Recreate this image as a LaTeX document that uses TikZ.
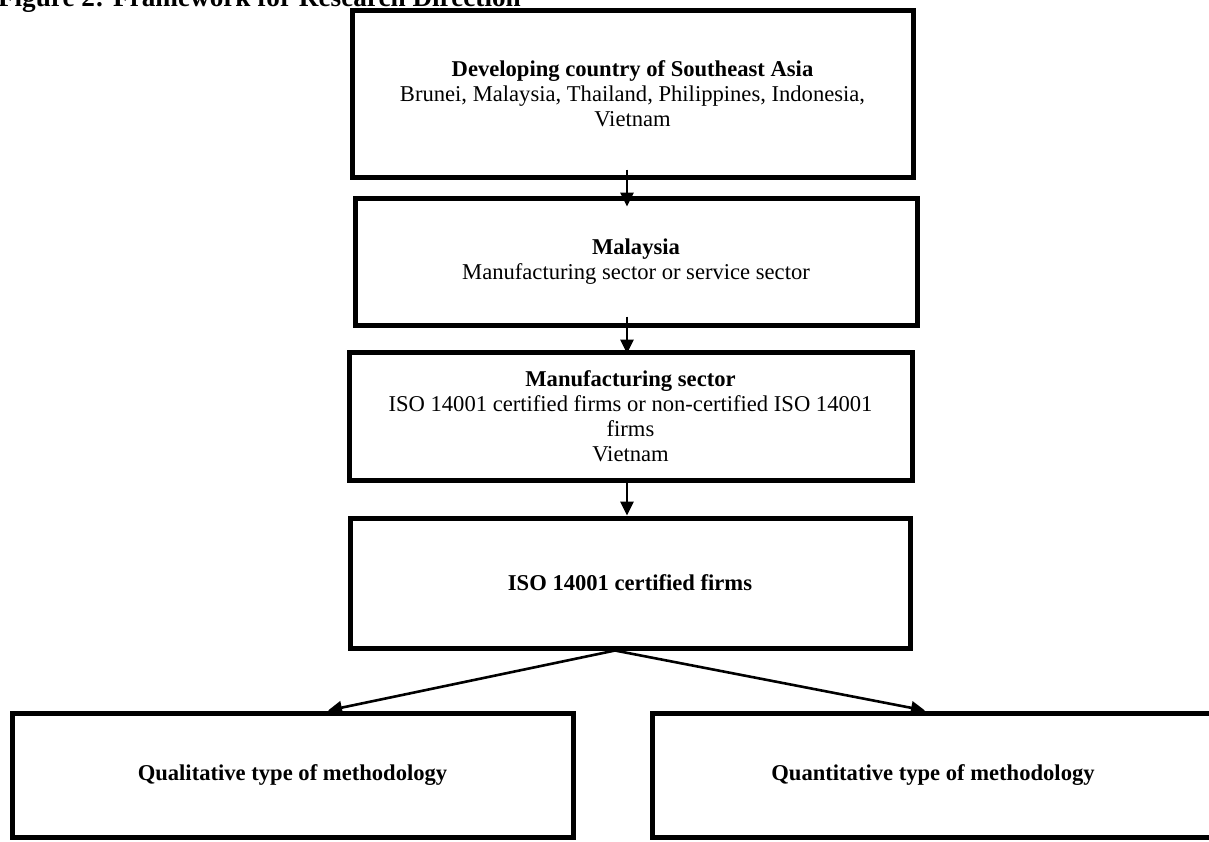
\documentclass[tikz,border=0pt]{standalone}
\usepackage{fontspec}
\setmainfont{Liberation Serif}
\usetikzlibrary{arrows.meta}

\tikzset{
  frame/.style={draw, line width=2.5pt, align=center, inner sep=0pt,
    font=\fontsize{11.3}{12.5}\selectfont},
  arr/.style={line width=1.3pt, -{Triangle[length=7pt,width=6.5pt]}}
}

\begin{document}
\begin{tikzpicture}[x=0.5pt,y=-0.5pt]
\useasboundingbox (0,0) rectangle (1209,841);
\node[anchor=base west, font=\fontsize{13.6}{16}\selectfont\bfseries] (title) at (-9,6)
  {Figure 2: Framework for Research Direction};
\node[frame, minimum width=280.5pt, minimum height=83.5pt] (region) at (632.5,93.5)
  {\textbf{Developing country of Southeast Asia}\\Brunei, Malaysia, Thailand, Philippines, Indonesia,\\Vietnam};
\node[frame, minimum width=281pt, minimum height=63.5pt] (country) at (636,261.5)
  {\textbf{Malaysia}\\Manufacturing sector or service sector};
\node[frame, minimum width=281.5pt, minimum height=64pt] (sector) at (630.5,416)
  {\textbf{Manufacturing sector}\\ISO 14001 certified firms or non-certified ISO 14001\\firms\\Vietnam};
\node[frame, minimum width=280pt, minimum height=65pt] (firms) at (630,583)
  {\textbf{ISO 14001 certified firms}};
\node[frame, minimum width=280.5pt, minimum height=62pt] (quali) at (292.5,775)
  {\textbf{Qualitative type of methodology}};
\node[frame, minimum width=281pt, minimum height=62pt] (quanti) at (933,775)
  {\textbf{Quantitative type of methodology}};
\coordinate (split) at ([xshift=-7.5pt]firms.south);
\draw[arr] ([xshift=-2.75pt,yshift=5pt]region.south) -- ([xshift=-4.5pt,yshift=-5.5pt]country.north);
\draw[arr] ([xshift=-4.5pt,yshift=5.5pt]country.south) -- ([xshift=-1.75pt,yshift=-2pt]sector.north);
\draw[arr] ([xshift=-1.75pt]sector.south) -- ([xshift=-1.5pt]firms.north);
\draw[arr] (split) -- ([xshift=17.75pt]quali.north);
\draw[arr] (split) -- ([xshift=-4pt]quanti.north);
\end{tikzpicture}
\end{document}
